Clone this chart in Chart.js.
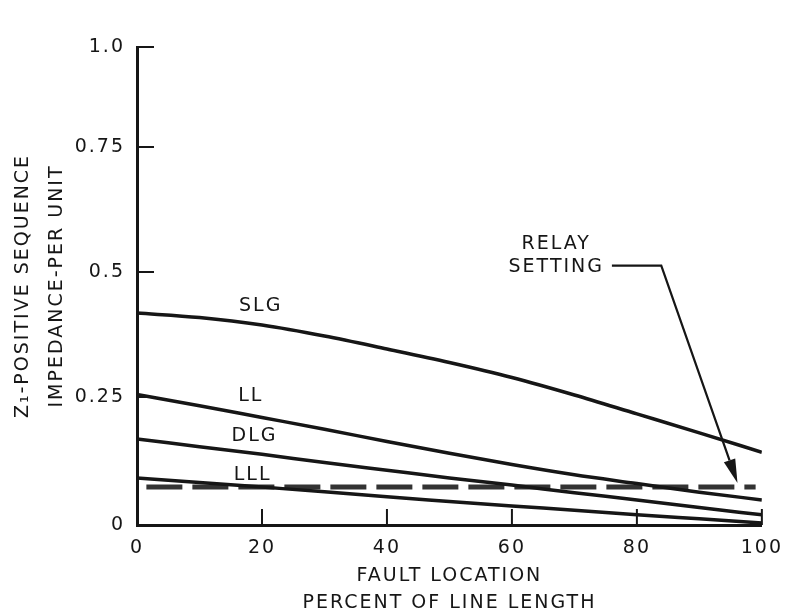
<!DOCTYPE html>
<html><head><meta charset="utf-8">
<script src="https://cdn.jsdelivr.net/npm/chart.js@4/dist/chart.umd.min.js"></script>
<style>html,body{margin:0;padding:0;background:#fff;}canvas{display:block;}</style>
</head><body>
<canvas id="c" width="795" height="615"></canvas>
<script>
// ---- data ----
const faultLocation = [0, 10, 20, 30, 40, 50, 60, 70, 80, 90, 100];
const slg = [0.418, 0.409, 0.394, 0.372, 0.346, 0.319, 0.289, 0.254, 0.217, 0.180, 0.142];
const ll  = [0.255, 0.233, 0.210, 0.187, 0.163, 0.140, 0.118, 0.098, 0.081, 0.064, 0.049];
const dlg = [0.168, 0.153, 0.138, 0.122, 0.107, 0.092, 0.078, 0.063, 0.049, 0.034, 0.020];
const lll = [0.092, 0.083, 0.074, 0.065, 0.055, 0.046, 0.037, 0.029, 0.020, 0.012, 0.004];
const relayX = [1.5, 99];
const relayY = [0.074, 0.074];
const xTickValues = [0, 20, 40, 60, 80, 100];
const yTickLabels = ['0', '0.25', '0.5', '0.75', '1.0'];
const xTitle = ['FAULT LOCATION', 'PERCENT OF LINE LENGTH'];
const yTitle = ['Z\u2081-POSITIVE SEQUENCE', 'IMPEDANCE-PER UNIT'];
const curveNames = ['SLG', 'LL', 'DLG', 'LLL'];
const relayText = ['RELAY', 'SETTING'];

// ---- annotation placement (data coordinates) ----
const curveLabelPos = [[19.8, 0.432], [18.2, 0.251], [18.8, 0.174], [18.5, 0.098]];
const relayTextPos = [[67.1, 0.556], [67.1, 0.509]];
const relayLeader = [[76, 0.5126], [83.9, 0.5126], [96.1, 0.082]];

const FONT = '"DejaVu Sans", sans-serif';
const INK = '#161616';

// y axis of the original drawing is not evenly spaced: piecewise linear scale
const knotValues = [0, 0.25, 0.5, 0.75, 1.0];
const knotFracs  = [0, 0.2678, 0.5293, 0.7908, 1.0];
function interp(v, xs, ys) {
  let i = 0;
  if (v <= xs[0]) i = 0;
  else if (v >= xs[xs.length - 1]) i = xs.length - 2;
  else { while (v > xs[i + 1]) i++; }
  const t = (v - xs[i]) / (xs[i + 1] - xs[i]);
  return ys[i] + t * (ys[i + 1] - ys[i]);
}
class PiecewiseScale extends Chart.LinearScale {
  getPixelForValue(v) {
    if (v === null || v === undefined || isNaN(v)) return NaN;
    return this.getPixelForDecimal(interp(v, knotValues, knotFracs));
  }
  getValueForPixel(p) {
    return interp(this.getDecimalForPixel(p), knotFracs, knotValues);
  }
}
PiecewiseScale.id = 'piecewise';
PiecewiseScale.defaults = {};
Chart.register(PiecewiseScale);

const pts = (xs, ys) => xs.map((x, i) => ({x: x, y: ys[i]}));
const curve = (label, ys) => ({
  label, data: pts(faultLocation, ys), borderColor: INK, borderWidth: 3.5,
  pointRadius: 0, cubicInterpolationMode: 'monotone', fill: false
});

const decor = {
  id: 'decor',
  beforeUpdate(chart) { chart.ctx.letterSpacing = '2px'; },
  beforeDraw(chart) { chart.ctx.letterSpacing = '2px'; },
  afterDatasetsDraw(chart) {
    const {ctx, chartArea: a, scales: {x, y}} = chart;
    ctx.save();
    ctx.letterSpacing = '2px';
    ctx.strokeStyle = INK; ctx.fillStyle = INK;
    // inward tick marks
    ctx.lineWidth = 2;
    x.ticks.forEach(t => {
      if (t.value === 0) return;
      const px = x.getPixelForValue(t.value);
      ctx.beginPath(); ctx.moveTo(px, a.bottom); ctx.lineTo(px, a.bottom - 16); ctx.stroke();
    });
    y.ticks.forEach(t => {
      if (t.value === 0) return;
      const py = y.getPixelForValue(t.value);
      ctx.beginPath(); ctx.moveTo(a.left, py); ctx.lineTo(a.left + 17, py); ctx.stroke();
    });
    // curve labels
    ctx.font = '19px ' + FONT;
    ctx.textAlign = 'center'; ctx.textBaseline = 'middle';
    curveNames.forEach((n, i) => {
      ctx.fillText(n, x.getPixelForValue(curveLabelPos[i][0]), y.getPixelForValue(curveLabelPos[i][1]));
    });
    relayText.forEach((n, i) => {
      ctx.fillText(n, x.getPixelForValue(relayTextPos[i][0]), y.getPixelForValue(relayTextPos[i][1]));
    });
    // leader with arrow
    const p = relayLeader.map(q => [x.getPixelForValue(q[0]), y.getPixelForValue(q[1])]);
    const tip = p[2], prev = p[1];
    const dx = tip[0] - prev[0], dy = tip[1] - prev[1], len = Math.hypot(dx, dy);
    const ux = dx / len, uy = dy / len, hl = 24, hw = 6;
    const bx = tip[0] - ux * hl, by = tip[1] - uy * hl;
    ctx.lineWidth = 2.2;
    ctx.beginPath(); ctx.moveTo(p[0][0], p[0][1]); ctx.lineTo(p[1][0], p[1][1]); ctx.lineTo(bx, by); ctx.stroke();
    ctx.beginPath();
    ctx.moveTo(tip[0], tip[1]);
    ctx.lineTo(bx - uy * hw, by + ux * hw);
    ctx.lineTo(bx + uy * hw, by - ux * hw);
    ctx.closePath(); ctx.fill();
    ctx.restore();
  }
};

new Chart(document.getElementById('c'), {
  type: 'line',
  data: {
    datasets: [
      curve('SLG', slg), curve('LL', ll), curve('DLG', dlg), curve('LLL', lll),
      { label: 'Relay setting', data: pts(relayX, relayY), borderColor: '#333', borderWidth: 5,
        borderDash: [36, 10], pointRadius: 0, fill: false }
    ]
  },
  options: {
    responsive: false, animation: false,
    layout: { padding: { top: 47, right: 29, bottom: 0, left: 0 } },
    plugins: { legend: { display: false }, tooltip: { enabled: false } },
    scales: {
      x: {
        type: 'linear', min: 0, max: 100,
        afterFit(s) { s.height = 90; },
        afterBuildTicks(s) { s.ticks = xTickValues.map(v => ({value: v})); },
        grid: { display: false, drawTicks: false },
        border: { display: true, color: INK, width: 3 },
        ticks: { padding: 12, color: INK, font: { family: FONT, size: 19 }, maxRotation: 0, autoSkip: false,
                 callback: v => String(v) },
        title: { display: true, text: xTitle, color: INK,
                 font: { family: FONT, size: 19, lineHeight: '27px' }, padding: { top: 0, bottom: -2 } }
      },
      y: {
        type: 'piecewise', min: 0, max: 1,
        afterFit(s) { s.width = 137; },
        grid: { display: false, drawTicks: false },
        border: { display: true, color: INK, width: 3 },
        ticks: { stepSize: 0.25, padding: 12, color: INK, font: { family: FONT, size: 19 },
                 callback: (v, i) => yTickLabels[i] },
        title: { display: true, text: yTitle, color: INK,
                 font: { family: FONT, size: 19, lineHeight: '34px' }, padding: { top: 6, bottom: 0 } }
      }
    }
  },
  plugins: [decor]
});
</script>
</body></html>
